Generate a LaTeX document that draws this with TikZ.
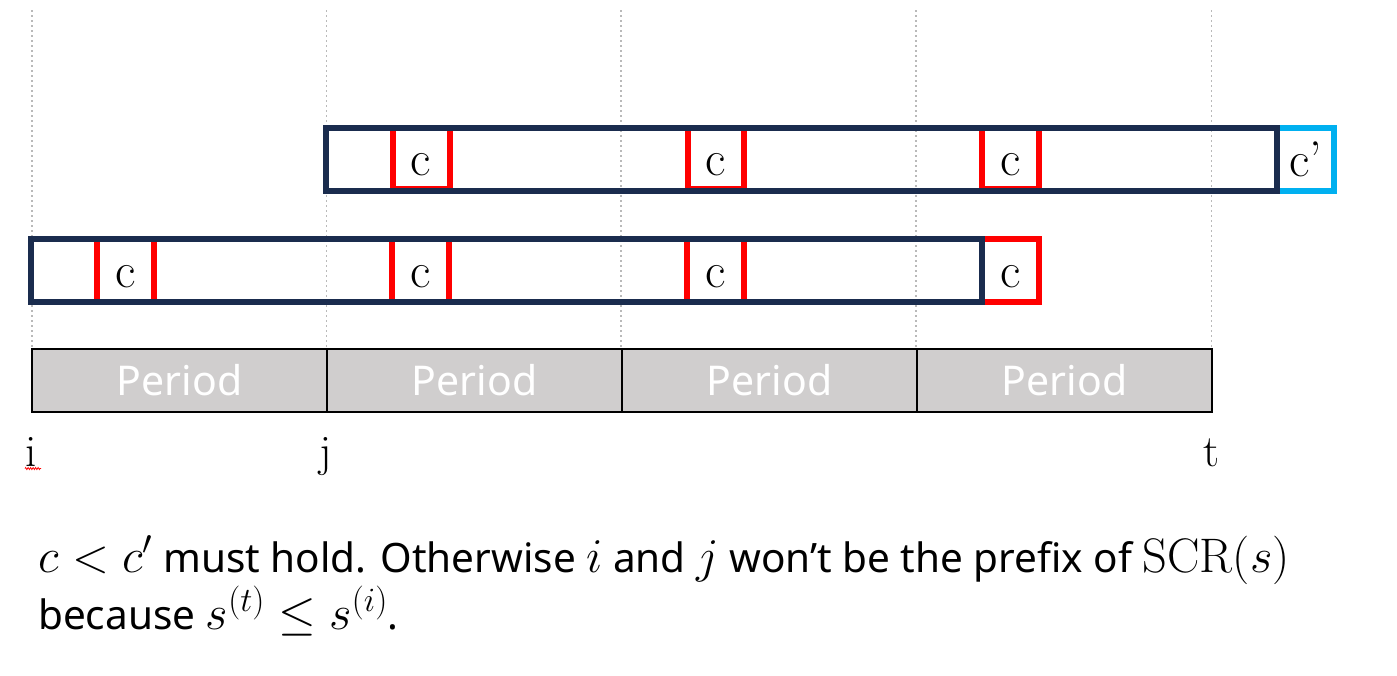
\RequirePackage{fix-cm}
\documentclass[tikz,border=0pt]{standalone}
\usepackage{fontspec}
\newfontfamily\periodfont{Noto Sans}
\usetikzlibrary{decorations.pathmorphing}
\DeclareMathSizes{40.5}{48.5}{34}{26}
\definecolor{barcolor}{RGB}{26,44,78}
\definecolor{markcolor}{RGB}{255,0,0}
\definecolor{nextcolor}{RGB}{0,176,240}
\definecolor{periodcolor}{RGB}{208,206,206}
\definecolor{gridcolor}{RGB}{185,185,185}
\begin{document}
\begin{tikzpicture}[yscale=-1
                ,gridline/.style={color=gridcolor,line width=1.8pt,dash pattern=on 1.8pt off 3.2pt}
                ,barline/.style={color=barcolor,line width=6pt}
                ,markline/.style={color=markcolor,line width=6pt}
                ,nextline/.style={color=nextcolor,line width=6pt}
                ,periodline/.style={color=black,fill=periodcolor,line width=1.8pt}
                ,periodtext/.style={color=white,font=\periodfont\fontsize{41}{50}\selectfont}
                ,letter/.style={anchor=base,color=black,font=\fontsize{50}{60}\selectfont}
                ,indexlabel/.style={anchor=base,color=black,font=\fontsize{45}{54}\selectfont}
                ,caption/.style={anchor=base west,color=black,inner sep=0pt,font=\periodfont\fontsize{40.5}{57}\selectfont}
            ]
            \path[use as bounding box,fill=white] (0pt,0pt) rectangle (1397pt,675pt);
            \draw[gridline] (32pt,10pt) -- (32pt,349pt);
            \draw[gridline] (326.5pt,10pt) -- (326.5pt,349pt);
            \draw[gridline] (621pt,10pt) -- (621pt,349pt);
            \draw[gridline] (916pt,10pt) -- (916pt,349pt);
            \draw[gridline] (1211.5pt,10pt) -- (1211.5pt,349pt);
            % upper window, starting at j
            \draw[markline] (393pt,127.5pt) rectangle (449.5pt,188.5pt);
            \draw[markline] (687.5pt,127.5pt) rectangle (744pt,188.5pt);
            \draw[markline] (982pt,127.5pt) rectangle (1039pt,188.5pt);
            \draw[nextline] (1277pt,128pt) rectangle (1334pt,191pt);
            \draw[barline] (326pt,128pt) rectangle (1277pt,191pt);
            \node[letter] (ctop1) at (421pt,175pt) {c};
            \node[letter] (ctop2) at (715.5pt,175pt) {c};
            \node[letter] (ctop3) at (1010.5pt,175pt) {c};
            \node[letter] (cnext) at (1305.5pt,176pt) {c’};
            % lower window, starting at i
            \draw[markline] (97pt,238.5pt) rectangle (154pt,301.5pt);
            \draw[markline] (392pt,238.5pt) rectangle (449pt,301.5pt);
            \draw[markline] (687pt,238.5pt) rectangle (744pt,301.5pt);
            \draw[markline] (982pt,238.5pt) rectangle (1039pt,301.5pt);
            \draw[barline] (31pt,238.5pt) rectangle (982pt,301.5pt);
            \node[letter] (cbot1) at (125.5pt,287pt) {c};
            \node[letter] (cbot2) at (420.5pt,287pt) {c};
            \node[letter] (cbot3) at (715.5pt,287pt) {c};
            \node[letter] (cbot4) at (1010.5pt,287pt) {c};
            % periods
            \draw[periodline] (32pt,349pt) rectangle (327pt,412pt);
            \node[periodtext] (period1) at (179.5pt,380.5pt) {Period};
            \draw[periodline] (327pt,349pt) rectangle (622pt,412pt);
            \node[periodtext] (period2) at (474.5pt,380.5pt) {Period};
            \draw[periodline] (622pt,349pt) rectangle (917pt,412pt);
            \node[periodtext] (period3) at (769.5pt,380.5pt) {Period};
            \draw[periodline] (917pt,349pt) rectangle (1212pt,412pt);
            \node[periodtext] (period4) at (1064.5pt,380.5pt) {Period};
            \node[indexlabel] (posi) at (31.5pt,466pt) {i};
            \node[indexlabel] (posj) at (326pt,466pt) {j};
            \node[indexlabel] (post) at (1211.5pt,466pt) {t};
            \draw[color=markcolor,line width=0.8pt,decorate,decoration={zigzag,segment length=2.5pt,amplitude=1pt}] (25pt,468.5pt) -- (41pt,468.5pt);
            \node[caption] (line1) at (38pt,572pt) {$c<c'$ must hold. Otherwise $i$ and $j$ won’t be the prefix of $\mathrm{SCR}(s)$};
            \node[caption] (line2) at (38pt,629pt) {because $s^{(t)}\leq s^{(i)}$.};
        \end{tikzpicture}
\end{document}
